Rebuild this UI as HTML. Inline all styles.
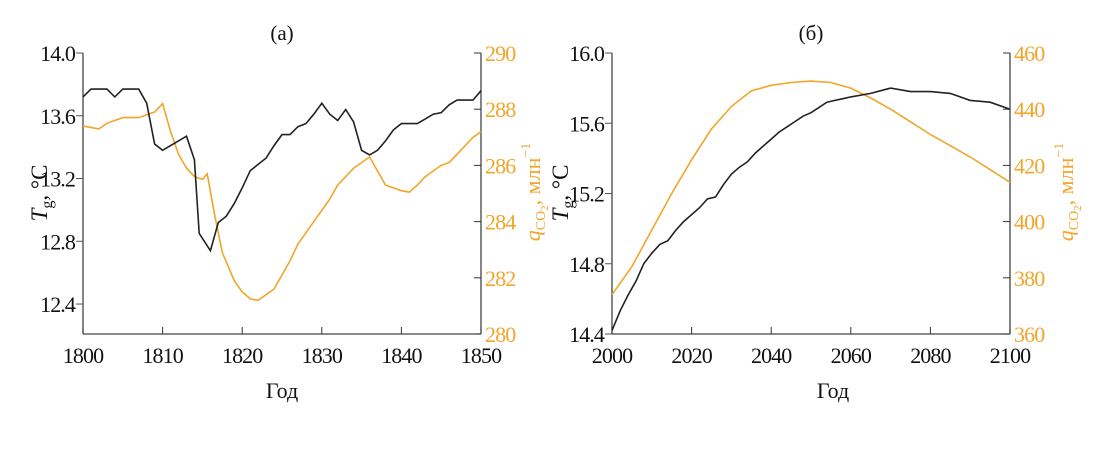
<!DOCTYPE html>
<html><head><meta charset="utf-8"><style>
body{margin:0;background:#fff;width:1114px;height:444px;overflow:hidden}
svg{font-family:"Liberation Serif",serif}
.tk{font-size:22px;letter-spacing:-0.9px}
</style></head><body>
<svg id="c" width="1114" height="444" xmlns="http://www.w3.org/2000/svg"></svg>
<script>
// Panel (a) data
const yearsA=[1800,1801,1803,1804,1805,1807,1808,1809,1810,1811,1812,1813,1814,1814.6,1816,1817,1818,1819,1820,1821,1822,1823,1824,1825,1826,1827,1828,1829,1830,1831,1832,1833,1834,1835,1836,1837,1838,1839,1840,1842,1843,1844,1845,1846,1847,1849,1850];
const tempA=[13.72,13.77,13.77,13.72,13.77,13.77,13.68,13.42,13.38,13.41,13.44,13.47,13.32,12.85,12.74,12.92,12.96,13.04,13.14,13.25,13.29,13.33,13.41,13.48,13.48,13.53,13.55,13.61,13.68,13.61,13.57,13.64,13.56,13.38,13.35,13.38,13.44,13.51,13.55,13.55,13.58,13.61,13.62,13.67,13.70,13.70,13.76];
const co2YearsA=[1800,1802,1803,1805,1807,1809,1810,1811,1812,1813,1814,1815,1815.6,1816.5,1817.5,1819,1820,1821,1822,1823,1824,1825,1826,1827,1828,1829,1830,1831,1832,1833,1834,1835,1836,1837,1838,1839,1840,1841,1842,1843,1844,1845,1846,1847,1848,1849,1850];
const co2A=[287.4,287.3,287.5,287.7,287.7,287.9,288.2,287.2,286.4,285.9,285.6,285.5,285.7,284.3,282.9,281.9,281.5,281.25,281.2,281.4,281.6,282.1,282.6,283.2,283.6,284.0,284.4,284.8,285.3,285.6,285.9,286.1,286.3,285.8,285.3,285.2,285.1,285.05,285.3,285.6,285.8,286.0,286.1,286.4,286.7,287.0,287.2];
const xTicksA=[1800,1810,1820,1830,1840,1850];
const yTicksA=[12.4,12.8,13.2,13.6,14.0];
const y2TicksA=[280,282,284,286,288,290];
// Panel (b) data
const yearsB=[2000,2002,2004,2006,2008,2010,2012,2014,2016,2018,2020,2022,2024,2026,2028,2030,2032,2034,2036,2038,2040,2042,2044,2046,2048,2050,2052,2054,2056,2058,2060,2065,2070,2075,2080,2085,2090,2095,2100];
const tempB=[14.42,14.53,14.62,14.70,14.80,14.86,14.91,14.93,14.99,15.04,15.08,15.12,15.17,15.18,15.25,15.31,15.35,15.38,15.43,15.47,15.51,15.55,15.58,15.61,15.64,15.66,15.69,15.72,15.73,15.74,15.75,15.77,15.80,15.78,15.78,15.77,15.73,15.72,15.68];
const co2YearsB=[2000,2005,2010,2015,2020,2025,2030,2035,2040,2045,2050,2055,2060,2065,2070,2075,2080,2085,2090,2095,2100];
const co2B=[374,384,397,410,422,433,441,446.5,448.5,449.5,450,449.5,447.5,444,440,435.5,431,427,423,418.5,414];
const xTicksB=[2000,2020,2040,2060,2080,2100];
const yTicksB=[14.4,14.8,15.2,15.6,16.0];
const y2TicksB=[360,380,400,420,440,460];

const svg=document.getElementById('c');
const NS='http://www.w3.org/2000/svg';
const OR='#f2a52a';
function el(t,a,txt){const e=document.createElementNS(NS,t);for(const k in a)e.setAttribute(k,a[k]);if(txt!==undefined)e.textContent=txt;svg.appendChild(e);return e;}

function panel(p){
  const sx=v=>p.x0+(v-p.xmin)/(p.xmax-p.xmin)*(p.x1-p.x0);
  const sy=v=>p.yB-(v-p.ymin)/(p.ymax-p.ymin)*(p.yB-p.yT);
  const sy2=v=>p.yB-(v-p.y2min)/(p.y2max-p.y2min)*(p.yB-p.yT);
  let a=el('line',{x1:p.x0,y1:p.yT,x2:p.x0,y2:p.yB,stroke:'#444','stroke-width':1.3});
  
  a=el('line',{x1:p.x1,y1:p.yT,x2:p.x1,y2:p.yB,stroke:'#444','stroke-width':1.3});
  
  a=el('line',{x1:p.x0,y1:p.yB,x2:p.x1,y2:p.yB,stroke:'#444','stroke-width':1.3});
  
  p.xt.forEach(v=>{
    el('line',{x1:sx(v),y1:p.yB,x2:sx(v),y2:p.yB-7,stroke:'#333'});
    const t=el('text',{class:'tk',x:sx(v),y:p.yB+29,'text-anchor':'middle',fill:'#111'},String(v));
    
  });
  p.yt.forEach(v=>{
    el('line',{x1:p.x0-7,y1:sy(v),x2:p.x0,y2:sy(v),stroke:'#555'});
    const t=el('text',{class:'tk',x:p.x0-8,y:sy(v)+8,'text-anchor':'end',fill:'#111'},v.toFixed(1));
    
  });
  p.y2t.forEach(v=>{
    el('line',{x1:p.x1,y1:sy2(v),x2:p.x1-7,y2:sy2(v),stroke:'#333'});
    const t=el('text',{class:'tk',x:p.x1+4,y:sy2(v)+8,fill:OR},String(v));
    
  });
  let d=p.cx.map((v,i)=>(i?'L':'M')+sx(v).toFixed(1)+','+sy2(p.cy[i]).toFixed(1)).join('');
  a=el('path',{d:d,fill:'none',stroke:OR,'stroke-width':1.6});
  
  d=p.tx.map((v,i)=>(i?'L':'M')+sx(v).toFixed(1)+','+sy(p.ty[i]).toFixed(1)).join('');
  a=el('path',{d:d,fill:'none',stroke:'#222','stroke-width':1.6});
  
  a=el('text',{x:p.tcx,y:40,'font-size':21,'text-anchor':'middle',fill:'#111'},p.title);
  
  a=el('text',{x:p.gcx,y:398,'font-size':22,'text-anchor':'middle',fill:'#111'},'Год');
  
  const g1=document.createElementNS(NS,'text');
  g1.setAttribute('transform','translate('+(p.tlx)+',193) rotate(-90)');
  g1.setAttribute('text-anchor','middle');g1.setAttribute('font-size','23');g1.setAttribute('fill','#111');
  g1.innerHTML='<tspan font-style="italic">T</tspan><tspan font-size="16" dy="5">g</tspan><tspan dy="-5">, °C</tspan>';
  
  svg.appendChild(g1);
  const g2=document.createElementNS(NS,'text');
  g2.setAttribute('transform','translate('+(p.qlx)+',192) rotate(-90)');
  g2.setAttribute('text-anchor','middle');g2.setAttribute('font-size','22');g2.setAttribute('fill',OR);
  g2.innerHTML='<tspan font-style="italic">q</tspan><tspan font-size="14" dy="5">CO</tspan><tspan font-size="11" dy="3">2</tspan><tspan dy="-8">, млн</tspan><tspan font-size="14" dy="-10">−1</tspan>';
  
  svg.appendChild(g2);
}
panel({id:'panel-a',title:'(а)',x0:83,x1:481,yT:53,yB:334,xmin:1800,xmax:1850,ymin:14.0-281/156.9,ymax:14.0,y2min:280,y2max:290,
  xt:xTicksA,yt:yTicksA,y2t:y2TicksA,tx:yearsA,ty:tempA,cx:co2YearsA,cy:co2A,tlx:47,qlx:540,tcx:282,gcx:282});
panel({id:'panel-b',title:'(б)',x0:612,x1:1010,yT:53,yB:334,xmin:2000,xmax:2100,ymin:14.4,ymax:16.0,y2min:360,y2max:460,
  xt:xTicksB,yt:yTicksB,y2t:y2TicksB,tx:yearsB,ty:tempB,cx:co2YearsB,cy:co2B,tlx:568,qlx:1073,tcx:811,gcx:833});
</script>
</body></html>
